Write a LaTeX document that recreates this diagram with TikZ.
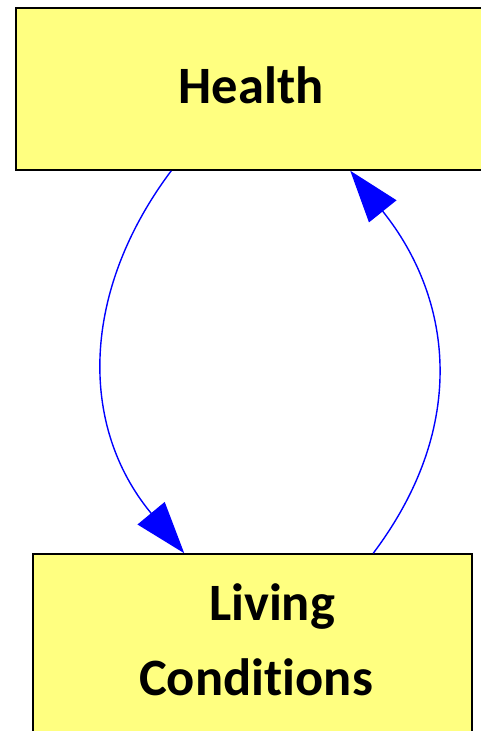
\documentclass[tikz,border=0pt]{standalone}
\usepackage{fontspec}
\setmainfont{Carlito}[Ligatures=NoCommon]
\usetikzlibrary{arrows.meta,calc}
\definecolor{boxyellow}{RGB}{255,255,128}
\definecolor{edgeblue}{RGB}{0,0,255}
\tikzset{
  ybox/.style={draw=black, line width=1.5pt, fill=boxyellow, inner sep=0pt, rectangle},
  lbl/.style={font=\fontsize{52.5}{75}\selectfont\bfseries, inner sep=0pt, anchor=base},
  edge/.style={draw=edgeblue, line width=1.4pt, -{Triangle[length=52pt,width=35pt]}}
}
\begin{document}
\begin{tikzpicture}[x=1pt,y=-1pt]
\useasboundingbox (0,0) rectangle (481,731);
\clip (0,0) rectangle (481,731);
\fill[white] (0,0) rectangle (481,731);
\node[ybox, minimum width=470pt, minimum height=162pt] (health) at (251,89) {};
\node[ybox, minimum width=439pt, minimum height=226pt] (lc) at (252.5,667) {};
\node[lbl] (htext) at (251,103) {Health};
\node[lbl] (ltext1) at (272,620) {Living};
\node[lbl] (ltext2) at (256,695) {Conditions};
\coordinate (a1) at ([xshift=156pt]health.south west);
\coordinate (a2) at ([xshift=152pt]lc.north west);
\coordinate (b1) at ([xshift=341pt]lc.north west);
\coordinate (b2) at ([xshift=335pt]health.south west);
\draw[edge] (a1) .. controls ($(a1)+(-90,120)$) and ($(a2)+(-106,-128)$) .. (a2);
\draw[edge] (b1) .. controls ($(b1)+(97,-129)$) and ($(b2)+(101,126)$) .. (b2);
\end{tikzpicture}
\end{document}
